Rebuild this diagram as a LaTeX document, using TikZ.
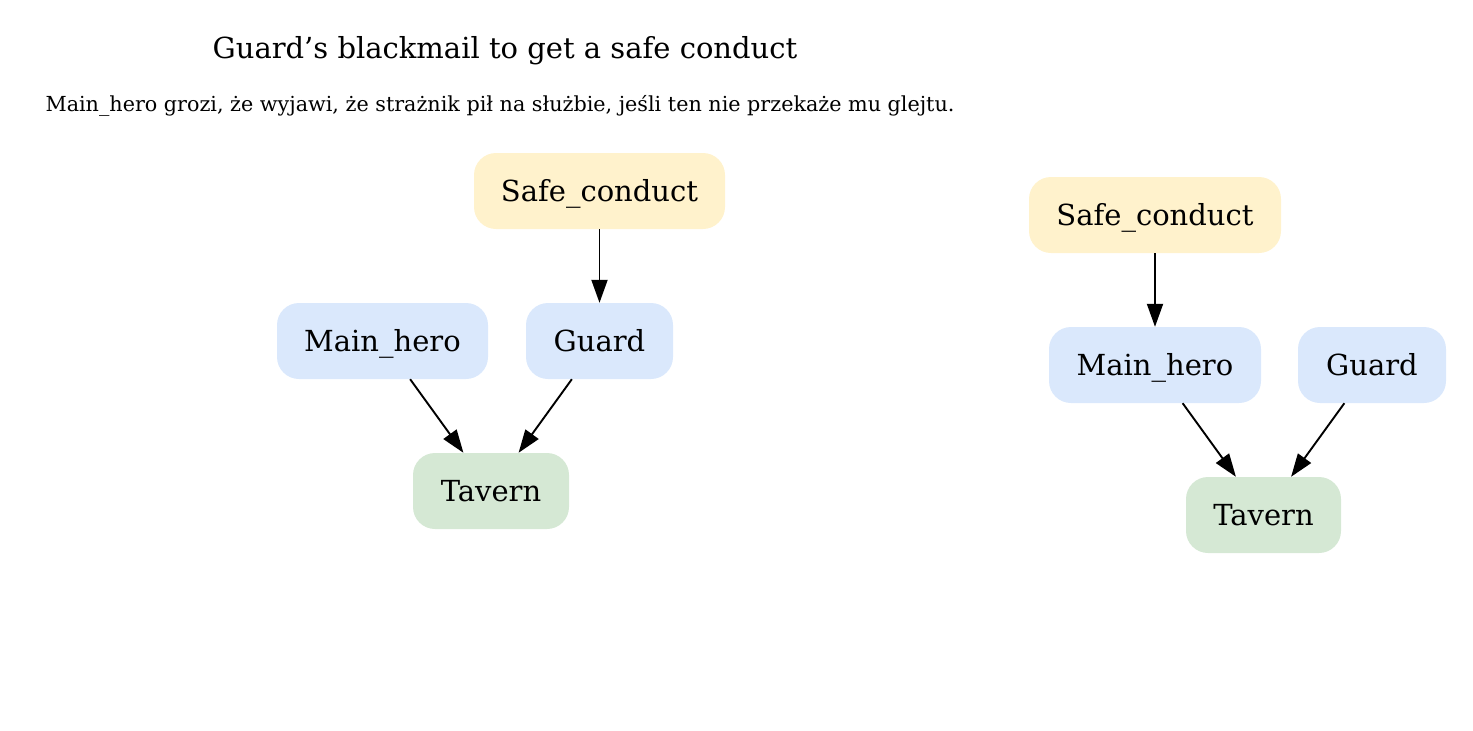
\documentclass[tikz,border=0pt]{standalone}
\usepackage{fontspec}
\setmainfont{DejaVu Serif}
\usetikzlibrary{arrows.meta}
\definecolor{ycol}{HTML}{FFF2CC}
\definecolor{bcol}{HTML}{DAE8FC}
\definecolor{gcol}{HTML}{D5E8D4}
\tikzset{
  box/.style={rounded corners=22pt, minimum height=76pt, inner sep=0pt, text height=25pt, text depth=4pt, font=\fontsize{29}{34}\selectfont, text=black},
  ybox/.style={box, fill=ycol},
  bbox/.style={box, fill=bcol},
  gbox/.style={box, fill=gcol},
  edge/.style={line width=1.9pt, -{Triangle[length=23pt,width=16pt]}},
}
\begin{document}
\begin{tikzpicture}[x=1pt,y=-1pt]
\useasboundingbox (0,0) rectangle (1473,731);
\node[font=\fontsize{29}{34}\selectfont] (title) at (505,51) {Guard’s blackmail to get a safe conduct};
\node[font=\fontsize{20.7}{24}\selectfont] (sub) at (500,106) {Main\_hero grozi, że wyjawi, że strażnik pił na służbie, jeśli ten nie przekaże mu glejtu.};
% left graph
\node[ybox, minimum width=251pt] (s1) at (599.5,191) {Safe\_conduct};
\node[bbox, minimum width=211pt] (m1) at (382.5,341) {Main\_hero};
\node[bbox, minimum width=147pt] (g1) at (599.5,341) {Guard};
\node[gbox, minimum width=156pt] (t1) at (491,491) {Tavern};
\draw[edge] (s1) -- (g1);
\draw[edge] (m1) -- (t1);
\draw[edge] (g1) -- (t1);
% right graph
\node[ybox, minimum width=252pt] (s2) at (1155,215) {Safe\_conduct};
\node[bbox, minimum width=212pt] (m2) at (1155,365) {Main\_hero};
\node[bbox, minimum width=148pt] (g2) at (1372,365) {Guard};
\node[gbox, minimum width=155pt] (t2) at (1263.5,515) {Tavern};
\draw[edge] (s2) -- (m2);
\draw[edge] (m2) -- (t2);
\draw[edge] (g2) -- (t2);
\end{tikzpicture}
\end{document}
